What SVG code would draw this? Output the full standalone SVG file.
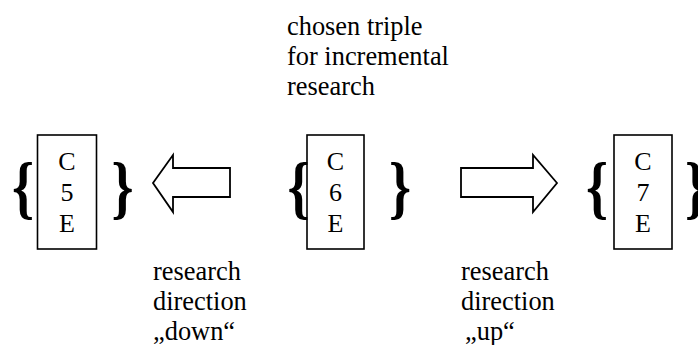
<svg xmlns="http://www.w3.org/2000/svg" width="698" height="345" viewBox="0 0 698 345">
<style>
text{font-family:'Liberation Serif','Times New Roman','DejaVu Serif',serif;font-size:26.4px;fill:#000}
.box{fill:#fff;stroke:#000;stroke-width:1.6}
.ltr{text-anchor:middle;font-size:26px}
.br{font-size:56px;font-weight:bold;text-anchor:middle}
.arrow{fill:#fff;stroke:#000;stroke-width:1.8;stroke-linejoin:miter}
</style>
<rect width="698" height="345" fill="#fff"/>
<g id="caption">
<text x="287" y="35">chosen triple</text>
<text x="287" y="65">for incremental</text>
<text x="287" y="95">research</text>
</g>
<g id="triple5">
<rect class="box" x="37.5" y="135" width="59" height="114"/>
<text class="ltr" x="67" y="170">C</text>
<text class="ltr" x="67" y="201">5</text>
<text class="ltr" x="67" y="232">E</text>
<text class="br" transform="translate(23,210.5) scale(1,1.25)">{</text>
<text class="br" transform="translate(122.5,210.5) scale(1,1.25)">}</text>
</g>
<g id="triple6">
<rect class="box" x="307" y="135" width="57" height="114"/>
<text class="ltr" x="335.5" y="170">C</text>
<text class="ltr" x="335.5" y="201">6</text>
<text class="ltr" x="335.5" y="232">E</text>
<text class="br" transform="translate(298.5,210.5) scale(1,1.25)">{</text>
<text class="br" transform="translate(400,210.5) scale(1,1.25)">}</text>
</g>
<g id="triple7">
<rect class="box" x="614" y="135" width="58" height="114"/>
<text class="ltr" x="643" y="170">C</text>
<text class="ltr" x="643" y="201">7</text>
<text class="ltr" x="643" y="232">E</text>
<text class="br" transform="translate(597,210.5) scale(1,1.25)">{</text>
<text class="br" transform="translate(696,210.5) scale(1,1.25)">}</text>
</g>
<g id="connectors">
<polygon class="arrow" points="153,183 173,155 173,168 230,168 230,197 173,197 173,212"/>
<polygon class="arrow" points="557,183 533,155 533,168 461,168 461,197 533,197 533,212"/>
</g>
<g id="label-down">
<text x="153" y="280">research</text>
<text x="153" y="310">direction</text>
<text x="153" y="340">„down“</text>
</g>
<g id="label-up">
<text x="461" y="280">research</text>
<text x="461" y="310">direction</text>
<text x="465" y="340">„up“</text>
</g>
</svg>
